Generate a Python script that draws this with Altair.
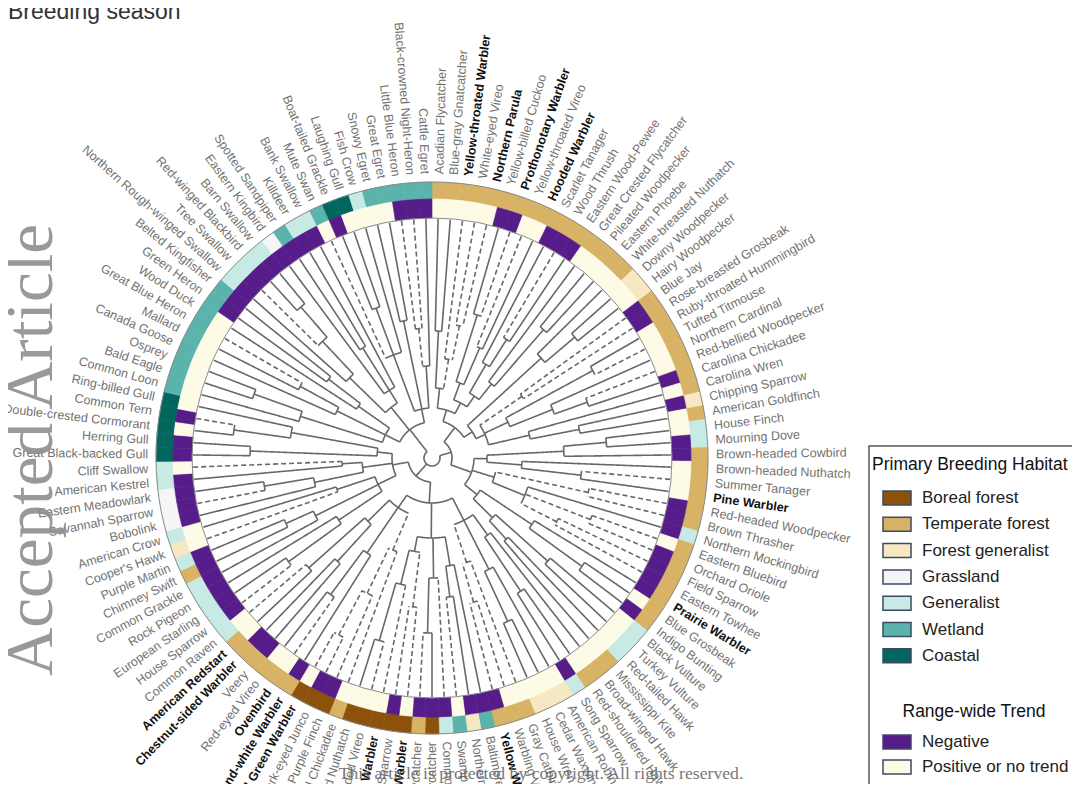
import math
import altair as alt
import pandas as pd

# ---------------- data ----------------
species = [
    "Acadian Flycatcher", "Blue-gray Gnatcatcher", "Yellow-throated Warbler", "White-eyed Vireo", "Northern Parula",
    "Yellow-billed Cuckoo", "Prothonotary Warbler", "Yellow-throated Vireo", "Hooded Warbler", "Scarlet Tanager",
    "Wood Thrush", "Eastern Wood-Pewee", "Great Crested Flycatcher", "Pileated Woodpecker", "Eastern Phoebe",
    "White-breasted Nuthatch", "Downy Woodpecker", "Hairy Woodpecker", "Blue Jay", "Rose-breasted Grosbeak",
    "Ruby-throated Hummingbird", "Tufted Titmouse", "Northern Cardinal", "Red-bellied Woodpecker", "Carolina Chickadee",
    "Carolina Wren", "Chipping Sparrow", "American Goldfinch", "House Finch", "Mourning Dove",
    "Brown-headed Cowbird", "Brown-headed Nuthatch", "Summer Tanager", "Pine Warbler", "Red-headed Woodpecker",
    "Brown Thrasher", "Northern Mockingbird", "Eastern Bluebird", "Orchard Oriole", "Field Sparrow",
    "Eastern Towhee", "Prairie Warbler", "Blue Grosbeak", "Indigo Bunting", "Black Vulture",
    "Turkey Vulture", "Red-tailed Hawk", "Mississippi Kite", "Broad-winged Hawk", "Red-shouldered Hawk",
    "Song Sparrow", "American Robin", "Cedar Waxwing", "House Wren", "Gray Catbird",
    "Warbling Vireo", "Yellow Warbler", "Baltimore Oriole", "Northern Flicker", "Swamp Sparrow",
    "Common Nighthawk", "Alder Flycatcher", "Least Flycatcher", "Magnolia Warbler", "White-throated Sparrow",
    "Yellow-rumped Warbler", "Blue-headed Vireo", "Red-breasted Nuthatch", "Black-capped Chickadee", "Purple Finch",
    "Dark-eyed Junco", "Black-throated Green Warbler", "Black-and-white Warbler", "Ovenbird", "Red-eyed Vireo",
    "Veery", "Chestnut-sided Warbler", "American Redstart", "Common Raven", "House Sparrow",
    "European Starling", "Rock Pigeon", "Common Grackle", "Chimney Swift", "Purple Martin",
    "Cooper's Hawk", "American Crow", "Bobolink", "Savannah Sparrow", "Eastern Meadowlark",
    "American Kestrel", "Cliff Swallow", "Great Black-backed Gull", "Herring Gull", "Double-crested Cormorant",
    "Common Tern", "Ring-billed Gull", "Common Loon", "Bald Eagle", "Osprey",
    "Canada Goose", "Mallard", "Great Blue Heron", "Wood Duck", "Green Heron",
    "Belted Kingfisher", "Northern Rough-winged Swallow", "Tree Swallow", "Red-winged Blackbird", "Barn Swallow",
    "Eastern Kingbird", "Spotted Sandpiper", "Killdeer", "Bank Swallow", "Mute Swan",
    "Boat-tailed Grackle", "Laughing Gull", "Fish Crow", "Snowy Egret", "Great Egret",
    "Little Blue Heron", "Black-crowned Night-Heron", "Cattle Egret",
]

# B boreal, T temperate, F forest generalist, G grassland, N generalist, W wetland, C coastal
habitat = [
    "T", "T", "T", "T", "T",
    "T", "T", "T", "T", "T",
    "T", "T", "T", "T", "T",
    "T", "F", "F", "T", "T",
    "T", "T", "T", "T", "T",
    "T", "F", "T", "N", "N",
    "T", "T", "T", "T", "T",
    "T", "N", "T", "T", "T",
    "T", "T", "T", "T", "N",
    "N", "N", "T", "T", "T",
    "N", "F", "F", "F", "T",
    "T", "T", "W", "F", "W",
    "N", "B", "T", "B", "B",
    "B", "B", "B", "T", "B",
    "B", "B", "T", "T", "T",
    "T", "T", "T", "N", "N",
    "N", "N", "N", "T", "N",
    "F", "N", "G", "G", "G",
    "N", "N", "C", "C", "C",
    "C", "C", "W", "W", "W",
    "W", "W", "W", "W", "W",
    "W", "N", "N", "N", "N",
    "G", "W", "N", "N", "W",
    "C", "C", "N", "W", "W",
    "W", "W", "W",
]

# 1 = negative range-wide trend, 0 = positive or no trend
negative = [
    0, 0, 0, 0, 0,
    1, 1, 0, 0, 1,
    1, 1, 0, 0, 0,
    0, 0, 0, 1, 1,
    0, 0, 0, 0, 1,
    0, 1, 0, 0, 1,
    1, 0, 0, 0, 1,
    1, 1, 0, 1, 1,
    1, 1, 0, 1, 0,
    0, 0, 0, 0, 0,
    1, 0, 0, 0, 0,
    0, 1, 1, 1, 0,
    1, 1, 1, 0, 1,
    0, 0, 0, 0, 1,
    1, 0, 1, 0, 0,
    1, 1, 0, 0, 1,
    1, 1, 1, 1, 1,
    0, 0, 1, 1, 1,
    1, 0, 1, 1, 0,
    1, 0, 0, 0, 0,
    0, 0, 0, 0, 1,
    1, 1, 1, 1, 1,
    1, 1, 1, 1, 0,
    1, 0, 0, 0, 0,
    1, 1, 1,
]

bold_species = [
    "Yellow-throated Warbler", "Northern Parula", "Prothonotary Warbler", "Hooded Warbler", "Pine Warbler",
    "Prairie Warbler", "Yellow Warbler", "Magnolia Warbler", "Yellow-rumped Warbler",
    "Black-throated Green Warbler", "Black-and-white Warbler", "Ovenbird", "Chestnut-sided Warbler",
    "American Redstart",
]

# species whose terminal branch is drawn dashed
dashed_species = [
    "Yellow-throated Warbler", "White-eyed Vireo", "Northern Parula", "Prothonotary Warbler",
    "Yellow-throated Vireo", "Wood Thrush", "Blue Jay", "Rose-breasted Grosbeak", "Tufted Titmouse",
    "Red-bellied Woodpecker", "Summer Tanager", "Red-headed Woodpecker", "Brown Thrasher",
    "Eastern Bluebird", "Orchard Oriole", "Field Sparrow", "Eastern Towhee",
    "Gray Catbird", "Warbling Vireo", "Yellow Warbler", "Swamp Sparrow", "Common Nighthawk",
    "Least Flycatcher", "Magnolia Warbler", "White-throated Sparrow", "Yellow-rumped Warbler",
    "Blue-headed Vireo", "Black-capped Chickadee", "Purple Finch", "Dark-eyed Junco",
    "Black-throated Green Warbler", "Ovenbird", "Common Raven", "House Sparrow",
    "Cooper's Hawk", "Savannah Sparrow", "Cliff Swallow", "Common Tern", "Great Blue Heron",
    "Tree Swallow", "Mute Swan", "Little Blue Heron", "Black-crowned Night-Heron",
]

# dendrogram clades: (first leaf, last leaf, node radius in px)
clades = [
    (1, 123, 8), (1, 48, 20), (49, 97, 24),
    # top-right sector
    (1, 28, 38), (1, 15, 50), (1, 5, 70), (1, 2, 127), (3, 5, 100), (4, 5, 135),
    (6, 15, 62), (6, 9, 80), (6, 7, 150), (8, 9, 120), (10, 15, 75), (10, 12, 108), (11, 12, 140),
    (13, 15, 95), (14, 15, 170), (16, 28, 48), (16, 18, 148), (17, 18, 187), (19, 28, 58),
    (19, 20, 109), (21, 25, 84), (21, 22, 183), (23, 25, 130), (24, 25, 165), (26, 28, 100), (27, 28, 150),
    # right sector
    (29, 48, 42), (29, 34, 55), (29, 31, 132), (29, 30, 175), (32, 34, 90), (33, 34, 150),
    (35, 41, 65), (35, 36, 160), (37, 41, 100), (38, 39, 170), (40, 41, 140),
    (42, 48, 58), (42, 44, 120), (43, 44, 185), (45, 48, 85), (45, 46, 155), (47, 48, 110),
    # bottom sector
    (49, 79, 45), (49, 57, 70), (49, 51, 95), (50, 51, 160), (52, 54, 125), (53, 54, 180),
    (55, 57, 110), (56, 57, 150), (58, 68, 80), (58, 60, 109), (59, 60, 140), (61, 63, 120),
    (62, 63, 175), (64, 68, 95), (64, 65, 150), (66, 68, 130), (67, 68, 190),
    (69, 79, 60), (69, 72, 100), (70, 72, 150), (71, 72, 200), (73, 75, 115), (74, 75, 170),
    (76, 79, 90), (76, 77, 140), (78, 79, 165),
    # lower-left sector
    (80, 97, 40), (80, 87, 60), (80, 82, 112), (80, 81, 177), (83, 85, 130), (84, 85, 160),
    (86, 87, 100), (88, 92, 70), (88, 90, 120), (89, 90, 170), (91, 92, 90),
    (93, 97, 55), (93, 94, 182), (95, 97, 143), (95, 96, 200),
    # upper-left sector
    (98, 123, 36), (98, 106, 52), (98, 100, 138), (99, 100, 189), (101, 103, 106), (102, 103, 150),
    (104, 106, 90), (105, 106, 130), (107, 114, 65), (107, 110, 115), (108, 110, 160), (109, 110, 200),
    (111, 114, 80), (112, 113, 130), (115, 123, 50), (115, 118, 110), (116, 117, 160),
    (119, 120, 140), (121, 123, 92), (121, 122, 130),
]

hab_codes = ["B", "T", "F", "G", "N", "W", "C"]
hab_names = ["Boreal forest", "Temperate forest", "Forest generalist", "Grassland",
             "Generalist", "Wetland", "Coastal"]
hab_colors = ["#8c510a", "#d8b365", "#f6e8c3", "#f5f5f5", "#c7eae5", "#5ab4ac", "#01665e"]
trend_names = ["Negative", "Positive or no trend"]
trend_colors = ["#561c8a", "#fdfbe6"]

# ---------------- layout constants ----------------
W, H = 1064, 776
CX, CY = 424, 450
R_OUT, R_MID, R_IN = 276, 259, 240
R_LEAF = 239
R_LABEL = 284

N = len(species)
step = 360.0 / N
hab_map = dict(zip(hab_codes, hab_names))

xs = alt.Scale(domain=[0, W], nice=False, zero=False)
ys = alt.Scale(domain=[0, H], nice=False, zero=False, reverse=True)
fill_scale = alt.Scale(domain=hab_names + trend_names, range=hab_colors + trend_colors)
theta_scale = alt.Scale(domain=[0, N], range=[0, 2 * math.pi])


def pol(theta_deg, r):
    t = math.radians(theta_deg)
    return CX + r * math.sin(t), CY - r * math.cos(t)


def X(f):
    return alt.X(f, scale=xs, axis=None)


def Y(f):
    return alt.Y(f, scale=ys, axis=None)


# ---------------- rings ----------------
ring = pd.DataFrame({
    "t0": list(range(N)),
    "t1": [i + 1 for i in range(N)],
    "species": species,
    "hab": [hab_map[h] for h in habitat],
    "trend": [trend_names[0] if v else trend_names[1] for v in negative],
})

hab_ring = alt.Chart(ring).mark_arc(radius=R_OUT, radius2=R_MID, strokeWidth=0.6).encode(
    theta=alt.Theta("t0:Q", scale=theta_scale),
    theta2="t1:Q",
    x=alt.value(CX), y=alt.value(CY),
    fill=alt.Fill("hab:N", scale=fill_scale, legend=None),
    stroke=alt.Stroke("hab:N", scale=fill_scale, legend=None),
)
trend_ring = alt.Chart(ring).mark_arc(radius=R_MID, radius2=R_IN, strokeWidth=0.6).encode(
    theta=alt.Theta("t0:Q", scale=theta_scale),
    theta2="t1:Q",
    x=alt.value(CX), y=alt.value(CY),
    fill=alt.Fill("trend:N", scale=fill_scale, legend=None),
    stroke=alt.Stroke("trend:N", scale=fill_scale, legend=None),
)
outline = alt.Chart(pd.DataFrame({"t0": [0], "t1": [N]})).mark_arc(
    radius=R_OUT, radius2=R_IN, fillOpacity=0, stroke="#8a8a8a", strokeWidth=1
).encode(
    theta=alt.Theta("t0:Q", scale=theta_scale), theta2="t1:Q",
    x=alt.value(CX), y=alt.value(CY),
)

# ---------------- dendrogram ----------------
leaf_ang = [(k + 0.5) * step for k in range(N)]
cl = sorted(range(len(clades)), key=lambda j: clades[j][1] - clades[j][0])


def smallest_containing(a, b, skip=None):
    for j in cl:
        if j == skip:
            continue
        f, l, _ = clades[j]
        if f <= a and l >= b:
            if skip is not None and (l - f) <= (clades[skip][1] - clades[skip][0]):
                continue
            return j
    return None


leaf_parent = [smallest_containing(i + 1, i + 1) for i in range(N)]
clade_parent = {}
for j in cl:
    f, l, _ = clades[j]
    clade_parent[j] = smallest_containing(f, l, skip=j)

node_ang = {}
node_span = {}
for j in cl:
    angs = [leaf_ang[i] for i in range(N) if leaf_parent[i] == j]
    angs += [node_ang[k] for k in cl if clade_parent.get(k) == j and k in node_ang]
    node_span[j] = (min(angs), max(angs))
    node_ang[j] = (min(angs) + max(angs)) / 2


def all_dashed(j):
    f, l, _ = clades[j]
    return all(species[i - 1] in dashed_species for i in range(f, l + 1))


rows = []
seg = 0
for i in range(N):
    p = leaf_parent[i]
    d = "dashed" if species[i] in dashed_species else "solid"
    for o, r in enumerate([R_LEAF, clades[p][2]]):
        x, y = pol(leaf_ang[i], r)
        rows.append({"seg": seg, "o": o, "x": x, "y": y, "dash": d})
    seg += 1
for j in cl:
    d = "dashed" if all_dashed(j) else "solid"
    p = clade_parent[j]
    if p is not None:
        for o, r in enumerate([clades[j][2], clades[p][2]]):
            x, y = pol(node_ang[j], r)
            rows.append({"seg": seg, "o": o, "x": x, "y": y, "dash": d})
        seg += 1
    a0, a1 = node_span[j]
    nstep = max(2, int((a1 - a0) / 0.7) + 1)
    for o in range(nstep + 1):
        x, y = pol(a0 + (a1 - a0) * o / nstep, clades[j][2])
        rows.append({"seg": seg, "o": o, "x": x, "y": y, "dash": d})
    seg += 1
tree = pd.DataFrame(rows)

tree_layer = alt.Chart(tree).mark_line(color="#686868", strokeWidth=1.6).encode(
    x=X("x:Q"), y=Y("y:Q"),
    detail="seg:N",
    order="o:Q",
    strokeDash=alt.StrokeDash("dash:N", scale=alt.Scale(domain=["solid", "dashed"], range=[[1, 0], [5, 3]]),
                              legend=None),
)

# ---------------- species labels ----------------
lab = []
for i, s in enumerate(species):
    th = leaf_ang[i]
    x, y = pol(th, R_LABEL)
    right = th < 180
    ang = (th - 90) % 360 if right else (th + 90) % 360
    lab.append({"species": s, "x": x, "y": y, "ang": ang, "side": "R" if right else "L",
                "bold": s in bold_species})
labels = pd.DataFrame(lab)


def label_layer(side, bold):
    return alt.Chart(labels).transform_filter(
        (alt.datum.side == side) & (alt.datum.bold == bold)
    ).mark_text(
        align="left" if side == "R" else "right", baseline="middle",
        font="Liberation Sans", fontSize=12.5,
        fontWeight="bold" if bold else "normal",
        color="#111111" if bold else "#727272",
    ).encode(
        x=X("x:Q"), y=Y("y:Q"),
        angle=alt.Angle("ang:Q", scale=None),
        text="species:N",
    )


label_layers = [label_layer(s, b) for s in ["R", "L"] for b in [False, True]]

# ---------------- legend (drawn from legend arrays) ----------------
LX, LY0, LDY = 875, 490, 26.3
leg_rows = []
for k, nm in enumerate(hab_names):
    leg_rows.append({"name": nm, "x": LX, "x2": LX + 28, "yc": LY0 + k * LDY})
for k, nm in enumerate(trend_names):
    leg_rows.append({"name": nm, "x": LX, "x2": LX + 28, "yc": 734 + k * 25})
leg = pd.DataFrame(leg_rows)
leg["y"] = leg["yc"] - 7
leg["y2"] = leg["yc"] + 7
leg["lx"] = LX + 39

leg_box = alt.Chart(pd.DataFrame({"x": [861], "x2": [1068], "y": [438], "y2": [800]})).mark_rect(
    fillOpacity=0, stroke="#555555", strokeWidth=1.5
).encode(x=X("x:Q"), x2="x2:Q", y=Y("y:Q"), y2="y2:Q")

leg_sw = alt.Chart(leg).mark_rect(stroke="#3d4a66", strokeWidth=1.5).encode(
    x=X("x:Q"), x2="x2:Q", y=Y("y:Q"), y2="y2:Q",
    fill=alt.Fill("name:N", scale=fill_scale, legend=None),
)
leg_txt = alt.Chart(leg).mark_text(
    align="left", baseline="middle", font="Liberation Sans", fontSize=17, color="#222222"
).encode(x=X("lx:Q"), y=Y("yc:Q"), text="name:N")

leg_title1 = alt.Chart(pd.DataFrame({"t": ["Primary Breeding Habitat"], "x": [864], "y": [457]})).mark_text(
    align="left", baseline="middle", font="Liberation Sans", fontSize=17.5, color="#111111"
).encode(x=X("x:Q"), y=Y("y:Q"), text="t:N")
leg_title2 = alt.Chart(pd.DataFrame({"t": ["Range-wide Trend"], "x": [966], "y": [704]})).mark_text(
    align="center", baseline="middle", font="Liberation Sans", fontSize=17.5, color="#111111"
).encode(x=X("x:Q"), y=Y("y:Q"), text="t:N")

# ---------------- free texts ----------------
title = alt.Chart(pd.DataFrame({"t": ["Breeding season"], "x": [0], "y": [11]})).mark_text(
    align="left", baseline="alphabetic", font="Liberation Sans", fontSize=23, color="#333333"
).encode(x=X("x:Q"), y=Y("y:Q"), text="t:N")

watermark = alt.Chart(pd.DataFrame({"t": ["Accepted Article"], "x": [44], "y": [442]})).mark_text(
    align="center", baseline="alphabetic", font="Liberation Serif", fontSize=67, color="#8f8f8f",
    angle=270, opacity=0.9
).encode(x=X("x:Q"), y=Y("y:Q"), text="t:N")

copyright_txt = alt.Chart(pd.DataFrame({
    "t": ["This article is protected by copyright. All rights reserved."], "x": [533], "y": [771]
})).mark_text(
    align="center", baseline="alphabetic", font="Liberation Serif", fontSize=17.7, color="#6a6a6a", opacity=0.9
).encode(x=X("x:Q"), y=Y("y:Q"), text="t:N")

chart = alt.layer(
    tree_layer, hab_ring, trend_ring, outline, *label_layers,
    leg_box, leg_sw, leg_txt, leg_title1, leg_title2, title, watermark, copyright_txt,
).properties(
    width=W, height=H, padding=0, autosize=alt.AutoSizeParams(type="none")
).configure_view(stroke=None)

chart.save("out.html", embed_options={"renderer": "svg", "actions": False})
